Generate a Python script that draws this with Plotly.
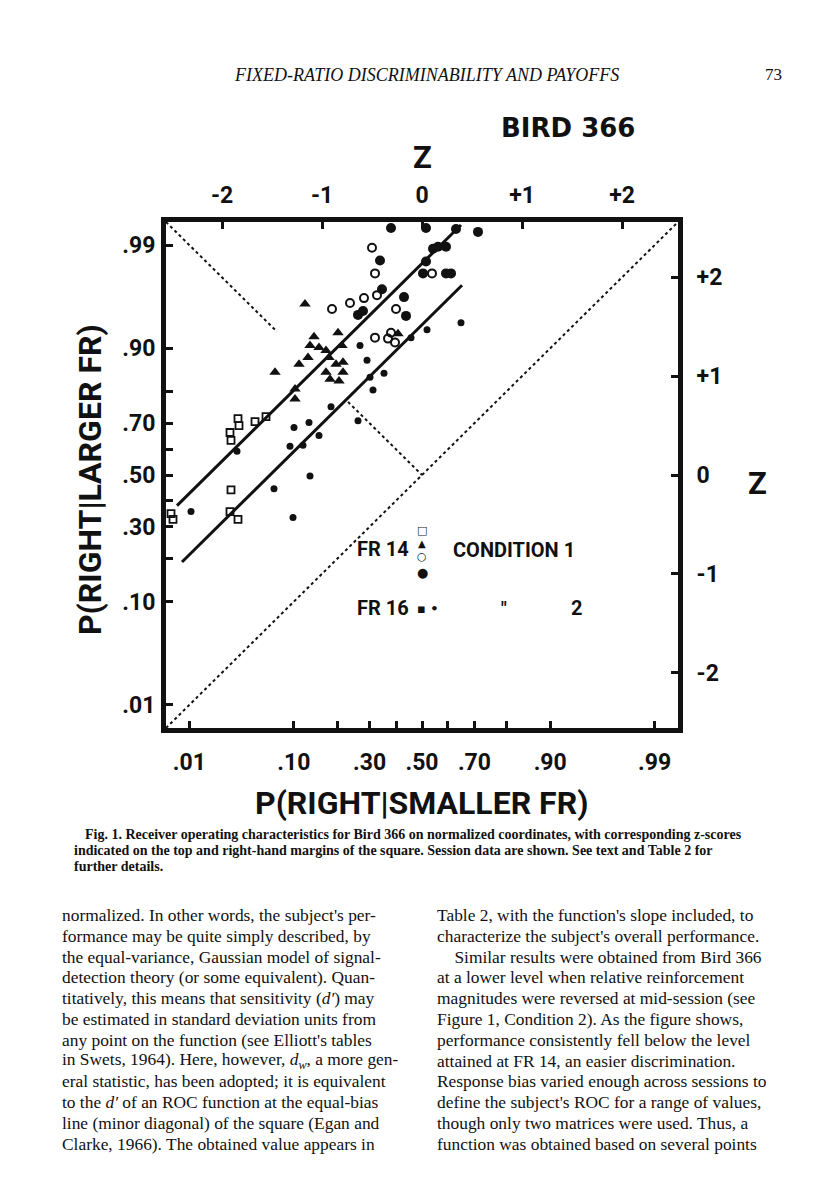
import statistics
import plotly.graph_objects as go

nd = statistics.NormalDist()

# z-scores (x: P(right|smaller FR), y: P(right|larger FR))
# FR 14, condition 1
sq_x = [-2.51, -2.49, -1.92, -1.91, -1.84, -1.83, -1.67, -1.56, -1.91, -1.92, -1.84]
sq_y = [-0.39, -0.45, 0.43, 0.35, 0.57, 0.50, 0.54, 0.59, -0.15, -0.37, -0.45]

tri_x = [-1.17, -1.08, -0.84, -1.12, -1.03, -0.80, -0.96, -1.14, -0.93, -1.23,
         -0.86, -0.79, -1.47, -0.96, -0.79, -0.92, -0.83, -1.27, -1.27, -0.24]
tri_y = [1.73, 1.40, 1.44, 1.31, 1.29, 1.31, 1.26, 1.19, 1.19, 1.12,
         1.12, 1.14, 1.04, 1.04, 1.04, 0.97, 0.95, 0.87, 0.77, 1.43]

oc_x = [-0.50, -0.47, -0.90, -0.72, -0.58, -0.45, -0.26, -0.47, -0.34, -0.31, -0.27, 0.10]
oc_y = [2.30, 2.04, 1.68, 1.74, 1.79, 1.82, 1.68, 1.39, 1.38, 1.44, 1.34, 2.04]

fc_x = [-0.31, 0.04, 0.34, 0.56, -0.42, -0.40, -0.64, -0.59, -0.18, -0.16,
        0.04, 0.01, 0.11, 0.16, 0.24, 0.24, 0.29]
fc_y = [2.50, 2.50, 2.49, 2.46, 2.17, 1.88, 1.62, 1.66, 1.80, 1.61,
        2.16, 2.04, 2.29, 2.31, 2.31, 2.04, 2.04]

# FR 16, condition 2
fr16_x = [0.05, 0.39, -0.11, -0.62, -0.55, -0.38, -0.52, -0.49, -0.91, -0.64,
          -1.13, -1.28, -1.03, -1.19, -1.32, -1.12, -1.85, -2.31, -1.48, -1.29]
fr16_y = [1.47, 1.54, 1.39, 1.31, 1.16, 1.03, 0.99, 0.86, 0.69, 0.55,
          0.53, 0.48, 0.40, 0.30, 0.29, -0.01, 0.24, -0.37, -0.14, -0.43]

# fitted ROC functions (unit slope): offset in z, and z-range along x
fit_offset = [2.14, 1.52]
fit_x_from = [-2.45, -2.40]
fit_x_to = [0.39, 0.40]

# minor diagonal is broken between these x values
minor_gap = [-1.45, -0.74]

prob_ticks = [0.01, 0.10, 0.30, 0.50, 0.70, 0.90, 0.99]
prob_labels = [".01", ".10", ".30", ".50", ".70", ".90", ".99"]
prob_minor = [0.20, 0.40, 0.60, 0.80]
z_ticks = [-2, -1, 0, 1, 2]
z_labels = ["-2", "-1", "0", "+1", "+2"]

LIM = 2.56

header = "FIXED-RATIO DISCRIMINABILITY AND PAYOFFS"
page_no = "73"

caption = [
    "Fig. 1. Receiver operating characteristics for Bird 366 on normalized coordinates, with corresponding z-scores",
    "indicated on the top and right-hand margins of the square. Session data are shown. See text and Table 2 for",
    "further details.",
]

left_col = [
    "normalized. In other words, the subject's per-",
    "formance may be quite simply described, by",
    "the equal-variance, Gaussian model of signal-",
    "detection theory (or some equivalent). Quan-",
    "titatively, this means that sensitivity (<i>d′</i>) may",
    "be estimated in standard deviation units from",
    "any point on the function (see Elliott's tables",
    "in Swets, 1964). Here, however, <i>d<sub>w</sub></i>, a more gen-",
    "eral statistic, has been adopted; it is equivalent",
    "to the <i>d′</i> of an ROC function at the equal-bias",
    "line (minor diagonal) of the square (Egan and",
    "Clarke, 1966). The obtained value appears in",
]

right_col = [
    "Table 2, with the function's slope included, to",
    "characterize the subject's overall performance.",
    "    Similar results were obtained from Bird 366",
    "at a lower level when relative reinforcement",
    "magnitudes were reversed at mid-session (see",
    "Figure 1, Condition 2). As the figure shows,",
    "performance consistently fell below the level",
    "attained at FR 14, an easier discrimination.",
    "Response bias varied enough across sessions to",
    "define the subject's ROC for a range of values,",
    "though only two matrices were used. Thus, a",
    "function was obtained based on several points",
]

# page geometry (px on the page); the html body adds an 8px margin
PAGE_W, PAGE_H = 816, 1200
OFF = 8
W, H = PAGE_W - 2 * OFF, PAGE_H - 2 * OFF
L, R, T, B = 166, 678, 222, 728
LETTER = "Roboto"
SERIF = "Liberation Serif"
INK = "#111111"


def paper(x, y):
    return (x - L) / (R - L), (B - y) / (B - T)


annotations = []


def note(text, x, y, size, family=LETTER, weight="bold", xanchor="center", style="normal", angle=0):
    px_, py_ = paper(x, y)
    annotations.append(dict(
        text=text, x=px_, y=py_, xref="paper", yref="paper", showarrow=False,
        xanchor=xanchor, yanchor="middle", textangle=angle,
        font=dict(family=family, size=size, color=INK, weight=weight, style=style),
    ))


fig = go.Figure()

# chance diagonal and broken minor diagonal
dot_line = dict(color=INK, width=2, dash="dot")
fig.add_trace(go.Scatter(x=[-LIM, LIM], y=[-LIM, LIM], mode="lines", line=dot_line, hoverinfo="skip"))
fig.add_trace(go.Scatter(x=[-LIM, minor_gap[0]], y=[LIM, -minor_gap[0]], mode="lines", line=dot_line, hoverinfo="skip"))
fig.add_trace(go.Scatter(x=[minor_gap[1], 0], y=[-minor_gap[1], 0], mode="lines", line=dot_line, hoverinfo="skip"))

# fitted ROC lines
for d, x0, x1 in zip(fit_offset, fit_x_from, fit_x_to):
    fig.add_trace(go.Scatter(x=[x0, x1], y=[x0 + d, x1 + d], mode="lines",
                             line=dict(color=INK, width=3), hoverinfo="skip"))

fig.add_trace(go.Scatter(x=sq_x, y=sq_y, mode="markers", name="FR 14 □", cliponaxis=False,
                         marker=dict(symbol="square-open", size=7, color=INK, line=dict(width=1.8))))
fig.add_trace(go.Scatter(x=tri_x, y=tri_y, mode="markers", name="FR 14 ▲", cliponaxis=False,
                         marker=dict(symbol="triangle-up", size=10, color=INK)))
fig.add_trace(go.Scatter(x=oc_x, y=oc_y, mode="markers", name="FR 14 ○", cliponaxis=False,
                         marker=dict(symbol="circle-open", size=8, color=INK, line=dict(width=2))))
fig.add_trace(go.Scatter(x=fc_x, y=fc_y, mode="markers", name="FR 14 ●", cliponaxis=False,
                         marker=dict(symbol="circle", size=10, color=INK)))
fig.add_trace(go.Scatter(x=fr16_x, y=fr16_y, mode="markers", name="FR 16", cliponaxis=False,
                         marker=dict(symbol="circle", size=7, color=INK)))

prob_z = [nd.inv_cdf(p) for p in prob_ticks]
minor_z = [nd.inv_cdf(p) for p in prob_minor]
tick_style = dict(ticks="inside", ticklen=7, tickwidth=2.5, tickcolor=INK)
axis_common = dict(range=[-LIM, LIM], showgrid=False, zeroline=False, showline=True, automargin=False,
                   linecolor=INK, linewidth=5, **tick_style,
                   tickfont=dict(family=LETTER, size=23, color=INK, weight="bold"))
prob_minor_ticks = dict(tickmode="array", tickvals=minor_z, showgrid=False, **tick_style)

fig.update_layout(
    width=W, height=H, autosize=False,
    margin=dict(l=L - OFF, r=W - (R - OFF), t=T - OFF, b=H - (B - OFF), pad=0),
    paper_bgcolor="white", plot_bgcolor="white",
    showlegend=False,
    xaxis=dict(axis_common, tickvals=prob_z, ticktext=prob_labels, side="bottom",
               ticklabelstandoff=9, minor=prob_minor_ticks),
    yaxis=dict(axis_common, tickvals=prob_z, ticktext=prob_labels, side="left",
               ticklabelstandoff=1, minor=prob_minor_ticks),
    xaxis2=dict(axis_common, tickvals=z_ticks, ticktext=z_labels, side="top", overlaying="x",
                matches="x", ticklabelstandoff=5),
    yaxis2=dict(axis_common, tickvals=z_ticks, ticktext=z_labels, side="right", overlaying="y",
                matches="y", ticklabelstandoff=9),
)
# invisible trace so the top and right axes are drawn
fig.add_trace(go.Scatter(x=[0], y=[0], xaxis="x2", yaxis="y2", mode="markers",
                         marker=dict(size=1, opacity=0), hoverinfo="skip"))

# page header
note(header, 426, 75, 18, family=SERIF, weight="normal", style="italic")
note(page_no, 773, 75, 17, family=SERIF, weight="normal")

# chart lettering
note("BIRD 366", 568, 128, 26, family="DejaVu Sans")
note("Z", 422, 157, 31)
note("Z", 757, 483, 31)
note("P(RIGHT|LARGER FR)", 90, 480, 32, angle=-90)
note("P(RIGHT|SMALLER FR)", 421, 803, 32)

# key
note("FR 14", 383, 549, 20)
note("□", 422, 530, 11, family="DejaVu Sans")
note("▲", 422, 543, 10, family="DejaVu Sans")
note("○", 422, 556, 11, family="DejaVu Sans")
note("●", 422, 572, 13, family="DejaVu Sans")
note("CONDITION 1", 514, 550, 20)
note("FR 16", 383, 608, 20)
note("▪ •", 428, 608, 13, family="DejaVu Sans")
note("\"", 504, 608, 18)
note("2", 576, 608, 20)

# caption
for i, line in enumerate(caption):
    note(line, 72 if i else 83, 834 + 16 * i, 14, family=SERIF, xanchor="left")

# body text
for i, line in enumerate(left_col):
    note(line, 60, 915 + 20.8 * i, 17.4, family=SERIF, weight="normal", xanchor="left")
for i, line in enumerate(right_col):
    note(line, 435, 915 + 20.8 * i, 17.4, family=SERIF, weight="normal", xanchor="left")

fig.update_layout(annotations=annotations)

fig.write_html("out.html")
